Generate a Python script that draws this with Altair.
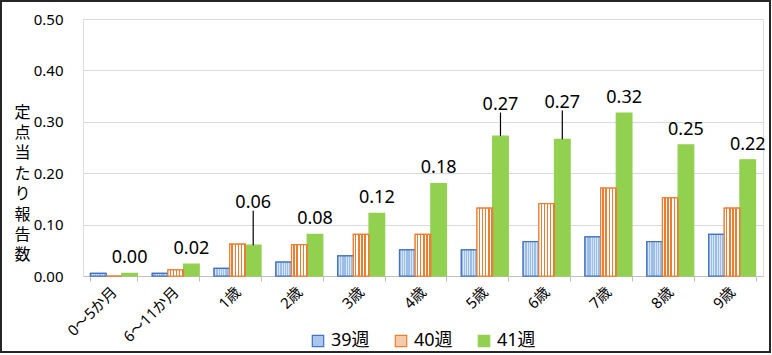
import altair as alt
import pandas as pd

categories = ["0〜5か月", "6〜11か月", "1歳", "2歳", "3歳", "4歳", "5歳", "6歳", "7歳", "8歳", "9歳"]
series = ["39週", "40週", "41週"]
w39 = [0.005, 0.005, 0.015, 0.027, 0.039, 0.051, 0.051, 0.067, 0.076, 0.067, 0.081]
w40 = [0.0, 0.012, 0.062, 0.061, 0.081, 0.081, 0.132, 0.141, 0.171, 0.152, 0.132]
w41 = [0.005, 0.023, 0.060, 0.081, 0.122, 0.180, 0.272, 0.266, 0.317, 0.255, 0.226]
label_text = ["0.00", "0.02", "0.06", "0.08", "0.12", "0.18", "0.27", "0.27", "0.32", "0.25", "0.22"]
# categories whose label is lifted with a leader line, and the label's baseline value
leader_cats = ["1歳", "5歳", "6歳"]
leader_label_y = [0.132, 0.323, 0.327]

rows = []
for s, vals in zip(series, [w39, w40, w41]):
    for c, v in zip(categories, vals):
        rows.append({"cat": c, "series": s, "value": v})
df = pd.DataFrame(rows)

lab_rows = []
for c, v, t in zip(categories, w41, label_text):
    if c in leader_cats:
        ly = leader_label_y[leader_cats.index(c)]
        lab_rows.append({"cat": c, "series": "41週", "value": v, "text": t, "ly": ly,
                         "lead": True, "ltop": ly - 0.005})
    else:
        lab_rows.append({"cat": c, "series": "41週", "value": v, "text": t, "ly": v,
                         "lead": False, "ltop": v})
ldf = pd.DataFrame(lab_rows)

FONT = "Noto Sans, Noto Sans CJK JP"
W, H = 680, 257

xenc = alt.X("cat:N", sort=categories,
             scale=alt.Scale(domain=categories, paddingInner=0.24, paddingOuter=0.12),
             axis=alt.Axis(title=None, labelAngle=-45, labelAlign="right", labelBaseline="middle",
                           labelFontSize=15, labelFont=FONT, labelColor="#000000", labelPadding=8,
                           domainColor="#BFBFBF", tickColor="#BFBFBF", tickSize=5,
                           tickBand="extent", grid=False))
xoff = alt.XOffset("series:N", scale=alt.Scale(domain=series, paddingInner=0, paddingOuter=0))
yscale = alt.Scale(domain=[0, 0.5], nice=False)
yenc = alt.Y("value:Q", scale=yscale,
             axis=alt.Axis(title=["定", "点", "当", "た", "り", "報", "告", "数"],
                           titleAngle=0, titleFontSize=16, titleFont=FONT, titleFontWeight="normal",
                           titleLineHeight=20.4, titleX=-61, titleY=93, titleAlign="center",
                           titleBaseline="middle", titleColor="#000000",
                           values=[0, 0.1, 0.2, 0.3, 0.4, 0.5], format=".2f",
                           labelFontSize=15, labelFont=FONT, labelColor="#000000",
                           labelPadding=20, tickSize=0, ticks=False, domain=False,
                           gridColor="#D9D9D9", gridWidth=1.2))

base = alt.Chart(df)

bars = base.mark_bar(strokeWidth=1.2).encode(
    x=xenc, xOffset=xoff, y=yenc,
    color=alt.Color("series:N", scale=alt.Scale(domain=series, range=["#A9C6EC", "#F6C9A8", "#92D050"]),
                    legend=alt.Legend(title=None, orient="none", legendX=226, legendY=313,
                                      direction="horizontal", symbolType="square", symbolSize=130,
                                      labelFontSize=18, labelFont=FONT, labelColor="#000000",
                                      columnPadding=22, labelOffset=4, padding=0, symbolStrokeWidth=1.2)),
    stroke=alt.Stroke("series:N", scale=alt.Scale(domain=series, range=["#4472C4", "#ED7D31", "#92D050"]),
                      legend=None),
)

def stripes(c1, c2, n, frac):
    stops = []
    for i in range(n):
        a = i / n
        b = (i + frac) / n
        e = (i + 1) / n
        stops += [alt.GradientStop(offset=a, color=c1), alt.GradientStop(offset=b, color=c1),
                  alt.GradientStop(offset=b, color=c2), alt.GradientStop(offset=e, color=c2)]
    return alt.Gradient(gradient="linear", stops=stops, x1=0, x2=1, y1=0, y2=0)

orange_fill = stripes("#FFFFFF", "#ED7D31", 5, 0.55)
blue_fill = stripes("#9CBDE8", "#D6E5F7", 7, 0.6)

b40 = base.transform_filter(alt.datum.series == "40週").mark_bar(
    fill=orange_fill, stroke="#ED7D31", strokeWidth=1.2).encode(x=xenc, xOffset=xoff, y=yenc)
b39 = base.transform_filter(alt.datum.series == "39週").mark_bar(
    fill=blue_fill, stroke="#4472C4", strokeWidth=1.2).encode(x=xenc, xOffset=xoff, y=yenc)

lbase = alt.Chart(ldf)
texts_plain = lbase.transform_filter("!datum.lead").mark_text(
    fontSize=18, font=FONT, color="#000000", baseline="alphabetic", dy=-10).encode(
    x=xenc, xOffset=xoff, y=alt.Y("ly:Q", scale=yscale), text="text:N")
texts_lead = lbase.transform_filter("datum.lead").mark_text(
    fontSize=18, font=FONT, color="#000000", baseline="alphabetic").encode(
    x=xenc, xOffset=xoff, y=alt.Y("ly:Q", scale=yscale), text="text:N")
leaders = lbase.transform_filter("datum.lead").mark_rule(color="#000000", strokeWidth=1.2).encode(
    x=xenc, xOffset=xoff, y=alt.Y("ltop:Q", scale=yscale), y2="value:Q")

frame = alt.Chart(pd.DataFrame({"a": [0]})).mark_rect(
    fill=None, stroke="#262626", strokeWidth=2).encode(
    x=alt.value(-82), x2=alt.value(W + 7), y=alt.value(-18), y2=alt.value(H + 76))

chart = alt.layer(bars, b39, b40, leaders, texts_plain, texts_lead, frame).properties(
    width=W, height=H,
    autosize=alt.AutoSizeParams(type="none"),
    padding={"left": 83, "top": 19, "right": 9, "bottom": 79},
).configure_view(stroke=None).configure(background="#FFFFFF")

chart.save("out.html", embed_options={"renderer": "svg", "actions": False})
